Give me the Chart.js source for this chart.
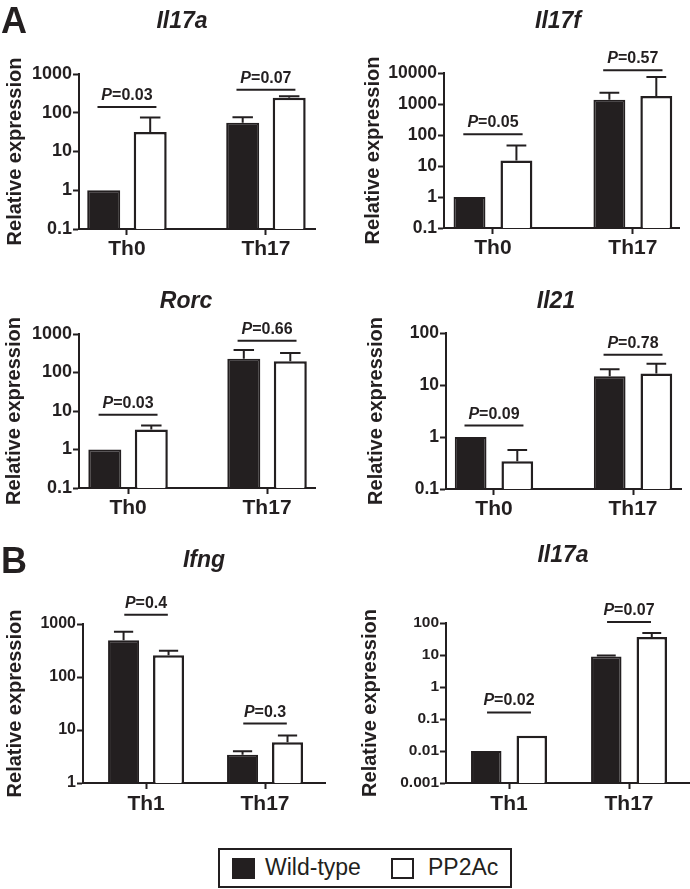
<!DOCTYPE html>
<html>
<head>
<meta charset="utf-8">
<script src="https://cdn.jsdelivr.net/npm/chart.js@4.4.0/dist/chart.umd.min.js"></script>
<style>
html,body{margin:0;padding:0;background:#fff;}
body{width:690px;height:889px;position:relative;overflow:hidden;font-family:'Liberation Sans',Arial,sans-serif;}
canvas{position:absolute;}
#legend{position:absolute;left:218px;top:848px;width:290px;height:36px;border:2px solid #231f20;background:#fff;}
#legend .sw{position:absolute;box-sizing:border-box;width:23px;height:21px;border:2px solid #231f20;}
#legend .lt{position:absolute;font-size:23px;line-height:23px;color:#231f20;white-space:nowrap;}
</style>
</head>
<body>
<canvas id="c1" width="345" height="290" style="left:0;top:0"></canvas>
<canvas id="c2" width="345" height="290" style="left:345px;top:0"></canvas>
<canvas id="c3" width="345" height="280" style="left:0;top:290px"></canvas>
<canvas id="c4" width="345" height="280" style="left:345px;top:290px"></canvas>
<canvas id="c5" width="345" height="280" style="left:0;top:540px"></canvas>
<canvas id="c6" width="345" height="280" style="left:345px;top:540px"></canvas>
<div id="legend"></div>
<script>
// ---------------- DATA ----------------
const seriesNames = ['Wild-type', 'PP2Ac'];
const catsA = ['Th0', 'Th17'];
const catsB = ['Th1', 'Th17'];
const yTitle = 'Relative expression';

// A: Il17a
const il17aA_wt = [1, 55];
const il17aA_ko = [32, 245];
const il17aA_wtErr = [null, 76];
const il17aA_koErr = [75, 265];
const il17aA_p = ['0.03', '0.07'];
const il17aA_pY = [140, 390];
const il17aA_ticks = [0.1, 1, 10, 100, 1000];

// A: Il17f
const il17f_wt = [1, 1380];
const il17f_ko = [15, 1810];
const il17f_wtErr = [null, 2320];
const il17f_koErr = [46, 7400];
const il17f_p = ['0.05', '0.57'];
const il17f_pY = [105, 12200];
const il17f_ticks = [0.1, 1, 10, 100, 1000, 10000];

// A: Rorc
const rorc_wt = [1, 229];
const rorc_ko = [3.3, 195];
const rorc_wtErr = [null, 385];
const rorc_koErr = [4.2, 320];
const rorc_p = ['0.03', '0.66'];
const rorc_pY = [8, 670];
const rorc_ticks = [0.1, 1, 10, 100, 1000];

// A: Il21
const il21_wt = [1, 14.8];
const il21_ko = [0.34, 16.7];
const il21_wtErr = [null, 20];
const il21_koErr = [0.56, 25.6];
const il21_p = ['0.09', '0.78'];
const il21_pY = [1.66, 38];
const il21_ticks = [0.1, 1, 10, 100];

// B: Ifng
const ifng_wt = [491, 3.4];
const ifng_ko = [256, 5.85];
const ifng_wtErr = [716, 3.96];
const ifng_koErr = [314, 7.9];
const ifng_p = ['0.4', '0.3'];
const ifng_pY = [1500, 13.2];
const ifng_ticks = [1, 10, 100, 1000];

// B: Il17a
const il17aB_wt = [0.01, 8.9];
const il17aB_ko = [0.03, 36.4];
const il17aB_wtErr = [null, 9.7];
const il17aB_koErr = [null, 48.5];
const il17aB_p = ['0.02', '0.07'];
const il17aB_pY = [0.16, 107];
const il17aB_ticks = [0.001, 0.01, 0.1, 1, 10, 100];

// ---------------- STYLE / LAYOUT ----------------
const INK = '#231f20';
const FONT = "'Liberation Sans', Arial, sans-serif";
Chart.defaults.font.family = FONT;
Chart.defaults.color = INK;

const panels = [
  {id:'c1', title:'Il17a', letter:'A', cats:catsA, wt:il17aA_wt, ko:il17aA_ko, wtErr:il17aA_wtErr, koErr:il17aA_koErr, p:il17aA_p, pY:il17aA_pY, ticks:il17aA_ticks,
   pt:74, pr:30, yw:79, xh:61, xmin:-0.345, xmax:1.353, catPct:0.669, barPct:0.71, tickSize:18, ytp:3, catPad:2, titleX:182, titleY:28, half:0.212},
  {id:'c2', title:'Il17f', cats:catsA, wt:il17f_wt, ko:il17f_ko, wtErr:il17f_wtErr, koErr:il17f_koErr, p:il17f_p, pY:il17f_pY, ticks:il17f_ticks,
   pt:73, pr:11, yw:99, xh:62, xmin:-0.35, xmax:1.33, catPct:0.671, barPct:0.68, tickSize:17.5, ytp:16, catPad:2, titleX:213, titleY:28, half:0.212},
  {id:'c3', title:'Rorc', cats:catsA, wt:rorc_wt, ko:rorc_ko, wtErr:rorc_wtErr, koErr:rorc_koErr, p:rorc_p, pY:rorc_pY, ticks:rorc_ticks,
   pt:44, pr:30, yw:79, xh:82, xmin:-0.353, xmax:1.345, catPct:0.669, barPct:0.71, tickSize:18, ytp:2, catPad:2, titleX:186, titleY:18, half:0.212},
  {id:'c4', title:'Il21', cats:catsA, wt:il21_wt, ko:il21_ko, wtErr:il21_wtErr, koErr:il21_koErr, p:il21_p, pY:il21_pY, ticks:il21_ticks,
   pt:43, pr:9, yw:101, xh:81, xmin:-0.345, xmax:1.345, catPct:0.671, barPct:0.68, tickSize:17.5, ytp:19, catPad:2, titleX:211, titleY:18, half:0.212},
  {id:'c5', title:'Ifng', letter:'B', cats:catsB, wt:ifng_wt, ko:ifng_ko, wtErr:ifng_wtErr, koErr:ifng_koErr, p:ifng_p, pY:ifng_pY, ticks:ifng_ticks,
   pt:84, pr:20, yw:83, xh:37, xmin:-0.53, xmax:1.504, catPct:0.756, barPct:0.69, tickSize:16, ytp:3, catPad:3, titleX:204, titleY:27, half:0.183},
  {id:'c6', title:'Il17a', cats:catsB, wt:il17aB_wt, ko:il17aB_ko, wtErr:il17aB_wtErr, koErr:il17aB_koErr, p:il17aB_p, pY:il17aB_pY, ticks:il17aB_ticks,
   pt:83, pr:0, yw:101, xh:37, xmin:-0.525, xmax:1.508, catPct:0.758, barPct:0.67, tickSize:15.5, ytp:13, catPad:3, titleX:218, titleY:22, half:0.183}
];

function makeDeco(cfg) {
  return {
    id: 'deco_' + cfg.id,
    afterDatasetsDraw(chart) {
      const ctx = chart.ctx, xs = chart.scales.x, ys = chart.scales.y;
      ctx.save();
      ctx.strokeStyle = INK; ctx.fillStyle = INK; ctx.lineWidth = 2; ctx.lineCap = 'butt';
      // error bars
      [cfg.wtErr, cfg.koErr].forEach((errs, di) => {
        const meta = chart.getDatasetMeta(di);
        meta.data.forEach((bar, i) => {
          const e = errs[i];
          if (e == null) return;
          const top = ys.getPixelForValue(e);
          const cap = bar.width * 0.62;
          ctx.beginPath();
          ctx.moveTo(bar.x, bar.y);
          ctx.lineTo(bar.x, top);
          ctx.moveTo(bar.x - cap / 2, top);
          ctx.lineTo(bar.x + cap / 2, top);
          ctx.stroke();
        });
      });
      // significance lines and P labels
      const f1 = 'italic bold 16px ' + FONT;
      const f2 = 'bold 16px ' + FONT;
      cfg.p.forEach((lab, i) => {
        const x0 = xs.getPixelForValue(i - cfg.half);
        const x1 = xs.getPixelForValue(i + cfg.half);
        const ly = ys.getPixelForValue(cfg.pY[i]);
        ctx.beginPath(); ctx.moveTo(x0, ly); ctx.lineTo(x1, ly); ctx.stroke();
        const cx = (x0 + x1) / 2;
        ctx.font = f1; const w1 = ctx.measureText('P').width;
        const t2 = '=' + lab;
        ctx.font = f2; const w2 = ctx.measureText(t2).width;
        const sx = cx - (w1 + w2) / 2;
        ctx.textAlign = 'left'; ctx.textBaseline = 'alphabetic';
        ctx.font = f1; ctx.fillText('P', sx, ly - 7);
        ctx.font = f2; ctx.fillText(t2, sx + w1, ly - 7);
      });
      // gene title
      ctx.font = 'italic bold 23px ' + FONT;
      ctx.textAlign = 'center'; ctx.textBaseline = 'alphabetic';
      ctx.fillText(cfg.title, cfg.titleX, cfg.titleY);
      // panel letter
      if (cfg.letter) {
        ctx.font = 'bold 36px ' + FONT;
        ctx.textAlign = 'left';
        ctx.fillText(cfg.letter, 1, 33);
      }
      ctx.restore();
    }
  };
}

function makeChart(cfg) {
  const gridOpts = {display:true, drawOnChartArea:false, drawTicks:true, tickLength:6, tickWidth:2, tickColor:INK, offset:false};
  const borderOpts = {display:true, color:INK, width:2};
  return new Chart(document.getElementById(cfg.id), {
    type: 'bar',
    data: {
      datasets: [
        {label: seriesNames[0], data: cfg.cats.map((c, i) => ({x: i, y: cfg.wt[i]})),
         backgroundColor: INK, borderColor: INK, borderWidth: 2, borderSkipped: 'start'},
        {label: seriesNames[1], data: cfg.cats.map((c, i) => ({x: i, y: cfg.ko[i]})),
         backgroundColor: '#ffffff', borderColor: INK, borderWidth: 2.5, borderSkipped: 'start'}
      ]
    },
    options: {
      responsive: false,
      animation: false,
      devicePixelRatio: 1,
      categoryPercentage: cfg.catPct,
      barPercentage: cfg.barPct,
      layout: {padding: {top: cfg.pt, right: cfg.pr, left: 0, bottom: 0}},
      plugins: {legend: {display: false}, tooltip: {enabled: false}, title: {display: false}},
      scales: {
        x: {
          type: 'linear', min: cfg.xmin, max: cfg.xmax, offset: false,
          afterBuildTicks: s => { s.ticks = cfg.cats.map((c, i) => ({value: i})); },
          afterFit: s => { s.height = cfg.xh; },
          grid: gridOpts, border: borderOpts,
          ticks: {color: INK, font: {size: 21, weight: 'bold'}, padding: cfg.catPad, maxRotation: 0, autoSkip: false,
                  callback: (v, i) => cfg.cats[i]}
        },
        y: {
          type: 'logarithmic', min: cfg.ticks[0], max: cfg.ticks[cfg.ticks.length - 1],
          afterBuildTicks: s => { s.ticks = cfg.ticks.map(v => ({value: v})); },
          afterFit: s => { s.width = cfg.yw; },
          grid: gridOpts, border: borderOpts,
          ticks: {color: INK, font: {size: cfg.tickSize, weight: 'bold'}, padding: 1, autoSkip: false,
                  callback: (v, i) => String(cfg.ticks[i])},
          title: {display: true, text: yTitle, color: INK, font: {size: 20, weight: 'bold'}, padding: {top: cfg.ytp, bottom: 0}}
        }
      }
    },
    plugins: [makeDeco(cfg)]
  });
}

panels.forEach(makeChart);

// legend (HTML)
const leg = document.getElementById('legend');
const swatches = [{bg: INK, sx: 12, tx: 45}, {bg: '#ffffff', sx: 171, tx: 208}];
seriesNames.forEach((name, i) => {
  const sw = document.createElement('span');
  sw.className = 'sw';
  sw.style.left = swatches[i].sx + 'px';
  sw.style.top = '8px';
  sw.style.background = swatches[i].bg;
  leg.appendChild(sw);
  const t = document.createElement('span');
  t.className = 'lt';
  t.textContent = name;
  t.style.left = swatches[i].tx + 'px';
  t.style.top = '6px';
  leg.appendChild(t);
});
</script>
</body>
</html>
